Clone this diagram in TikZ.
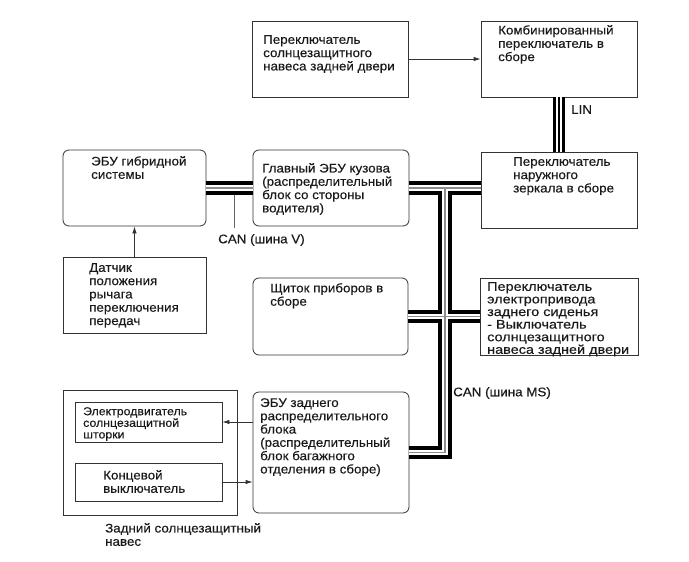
\documentclass[tikz,border=0pt]{standalone}
\usepackage{fontspec}
\setmainfont[FakeStretch=1.07,FakeBold=0.35]{Liberation Sans}
\newfontfamily\widefont[FakeStretch=1.155,FakeBold=0.35]{Liberation Sans}
\usetikzlibrary{arrows.meta}

\newcommand\busnet[1]{%
  \draw[#1] (hyb.east) -- (main.west);
  \draw[#1] (main.east) -- (mirror.west |- main.east);
  \draw[#1, line join=miter] (jT) -- (jB) -- (rear.east |- jB);
  \draw[#1] (shch.east) -- (seat.west);
}

\begin{document}
\begin{tikzpicture}[x=1pt,y=-1pt,
  box/.style={draw=black!80, line width=0.8pt, inner sep=0pt},
  sq/.style={box},
  rnd/.style={box, rounded corners=6pt},
  txt/.style={anchor=north west, inner sep=0pt, align=left, text=black!90,
              font=\fontsize{12.5}{13.3}\selectfont},
  wtxt/.style={txt, font=\widefont\fontsize{12.5}{12.6}\selectfont},
  stxt/.style={txt, font=\fontsize{11.5}{11.6}\selectfont},
  busA/.style={line width=13.5pt, black},
  busB/.style={line width=5.5pt, white},
  busC/.style={line width=1.2pt, black!45},
  arr/.style={draw=black!80, line width=0.8pt, -{Latex[length=7pt,width=4.5pt]}},
  lead/.style={draw=black!60, line width=0.7pt}
]
\useasboundingbox (0,0) rectangle (689,562);

% boxes
\node[sq,  minimum width=156pt, minimum height=76pt]  (b1)     at (330,59) {};
\node[sq,  minimum width=156pt, minimum height=76pt]  (comb)   at (559,59) {};
\node[sq,  minimum width=156pt, minimum height=76pt]  (mirror) at (559,190) {};
\node[rnd, minimum width=143pt, minimum height=76pt]  (hyb)    at (134.5,188) {};
\node[rnd, minimum width=156pt, minimum height=76pt]  (main)   at (331,188) {};
\node[sq,  minimum width=143pt, minimum height=76pt]  (dat)    at (134.5,295) {};
\node[rnd, minimum width=155pt, minimum height=77pt]  (shch)   at (330.5,316.5) {};
\node[sq,  minimum width=158pt, minimum height=77pt]  (seat)   at (559,316.5) {};
\node[rnd, minimum width=156pt, minimum height=121pt] (rear)   at (331,452.5) {};
\node[sq,  minimum width=174pt, minimum height=125pt] (outer)  at (150,452.5) {};
\node[sq,  minimum width=147pt, minimum height=40pt]  (motor)  at (148.5,422) {};
\node[sq,  minimum width=147pt, minimum height=38pt]  (limit)  at (148.5,482) {};

% texts
\node[txt] (t1) at (263,35) {Переключатель\\солнцезащитного\\навеса задней двери};
\node[txt] (t2) at (498,25) {Комбинированный\\переключатель в\\сборе};
\node[txt] (t3) at (513,157) {Переключатель\\наружного\\зеркала в сборе};
\node[txt] (t4) at (91,156) {ЭБУ гибридной\\системы};
\node[txt] (t5) at (262,163) {Главный ЭБУ кузова\\(распределительный\\блок со стороны\\водителя)};
\node[txt] (t6) at (89,263) {Датчик\\положения\\рычага\\переключения\\передач};
\node[txt] (t7) at (270,283) {Щиток приборов в\\сборе};
\node[wtxt] (t8) at (487,282) {Переключатель\\электропривода\\заднего сиденья\\- Выключатель\\солнцезащитного\\навеса задней двери};
\node[txt] (t9) at (260,398) {ЭБУ заднего\\распределительного\\блока\\(распределительный\\блок багажного\\отделения в сборе)};
\node[stxt] (t10) at (83,407) {Электродвигатель\\солнцезащитной\\шторки};
\node[txt] (t11) at (103,470) {Концевой\\выключатель};
\node[txt] (t12) at (105,523) {Задний солнцезащитный\\навес};
\node[txt] (lin) at (571,105) {LIN};
\node[txt] (canv) at (218,234) {CAN (шина V)};
\node[txt] (canms) at (453,387) {CAN (шина MS)};

% bus network
\coordinate (jT) at (445,188);
\coordinate (jB) at (445,452.5);
\busnet{busA}
\busnet{busB}
\busnet{busC}

% LIN
\draw[line width=12pt, black] (comb.south) -- (mirror.north);
\draw[line width=6.5pt, white] (comb.south) -- (mirror.north);
\draw[line width=2pt, black] (comb.south) -- (mirror.north);

% CAN V leader
\coordinate (cvtop) at (234,195);
\draw[lead] (cvtop) -- ++(0,33);

% arrows
\draw[arr] (b1.east) -- (comb.west |- b1.east);
\draw[arr] (dat.north) -- (hyb.south);
\draw[arr] (rear.west |- motor.east) -- (motor.east);
\draw[arr] (limit.east) -- (rear.west |- limit.east);
\end{tikzpicture}
\end{document}
